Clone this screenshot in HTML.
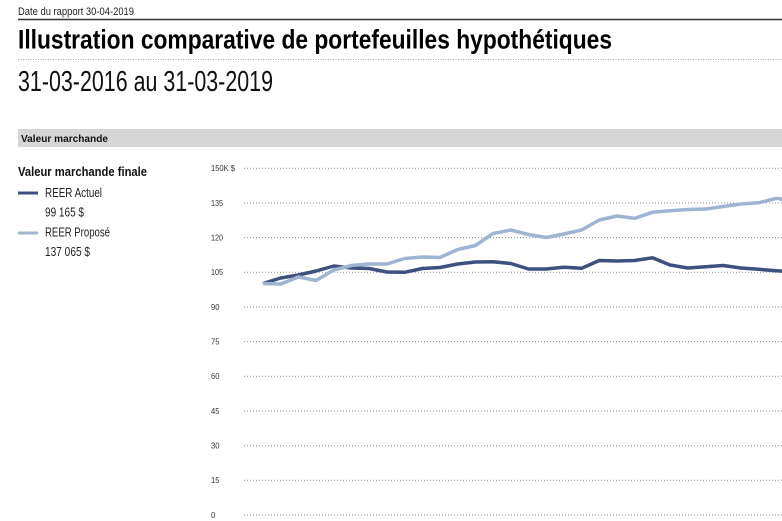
<!DOCTYPE html>
<html><head><meta charset="utf-8"><style>
html,body{margin:0;padding:0;background:#fff;width:782px;height:521px;overflow:hidden}
svg{display:block}
text{font-family:"Liberation Sans","DejaVu Sans",sans-serif}
</style></head><body>
<svg width="782" height="521" viewBox="0 0 782 521" xmlns="http://www.w3.org/2000/svg">
<text x="18" y="15" font-size="11" fill="#222" textLength="116" lengthAdjust="spacingAndGlyphs">Date du rapport 30-04-2019</text>
<line x1="18" y1="19.5" x2="782" y2="19.5" stroke="#333" stroke-width="1.4"/>
<text x="18" y="48.5" font-size="27" font-weight="bold" fill="#000" textLength="594" lengthAdjust="spacingAndGlyphs">Illustration comparative de portefeuilles hypothétiques</text>
<line x1="18" y1="59.5" x2="782" y2="59.5" stroke="#aaa" stroke-width="1" stroke-dasharray="1 1.5"/>
<text x="18" y="91" font-size="29" fill="#111" textLength="255" lengthAdjust="spacingAndGlyphs">31-03-2016 au 31-03-2019</text>
<rect x="18" y="129" width="764" height="18" fill="#d6d6d6"/>
<text x="21" y="142" font-size="10.5" font-weight="bold" fill="#111" textLength="87" lengthAdjust="spacingAndGlyphs">Valeur marchande</text>
<text x="18" y="176" font-size="12.5" font-weight="bold" fill="#111" textLength="129" lengthAdjust="spacingAndGlyphs">Valeur marchande finale</text>
<rect x="18" y="191.5" width="20" height="3" fill="#3d5080"/>
<text x="45" y="197" font-size="12.5" fill="#222" textLength="57" lengthAdjust="spacingAndGlyphs">REER Actuel</text>
<text x="45" y="216.5" font-size="12.5" fill="#222" textLength="39" lengthAdjust="spacingAndGlyphs">99 165 $</text>
<rect x="18" y="231.5" width="20" height="3" fill="#9fb4d2"/>
<text x="45" y="236.7" font-size="12.5" fill="#222" textLength="65" lengthAdjust="spacingAndGlyphs">REER Proposé</text>
<text x="45" y="256" font-size="12.5" fill="#222" textLength="45" lengthAdjust="spacingAndGlyphs">137 065 $</text>
<g stroke="#8a8a8a" stroke-width="1" stroke-dasharray="1 2">
<line x1="244" y1="168.3" x2="782" y2="168.3"/>
<line x1="244" y1="203" x2="782" y2="203"/>
<line x1="244" y1="237.6" x2="782" y2="237.6"/>
<line x1="244" y1="272.3" x2="782" y2="272.3"/>
<line x1="244" y1="307" x2="782" y2="307"/>
<line x1="244" y1="341.6" x2="782" y2="341.6"/>
<line x1="244" y1="376.3" x2="782" y2="376.3"/>
<line x1="244" y1="411" x2="782" y2="411"/>
<line x1="244" y1="445.7" x2="782" y2="445.7"/>
<line x1="244" y1="480.3" x2="782" y2="480.3"/>
<line x1="244" y1="515" x2="782" y2="515"/>
</g>
<g font-size="8" fill="#333">
<text x="211" y="171" textLength="24" lengthAdjust="spacingAndGlyphs">150K $</text>
<text x="211" y="205.8" textLength="12" lengthAdjust="spacingAndGlyphs">135</text>
<text x="211" y="240.4" textLength="12" lengthAdjust="spacingAndGlyphs">120</text>
<text x="211" y="275.1" textLength="12" lengthAdjust="spacingAndGlyphs">105</text>
<text x="211" y="309.8" textLength="8.5" lengthAdjust="spacingAndGlyphs">90</text>
<text x="211" y="344.4" textLength="8.5" lengthAdjust="spacingAndGlyphs">75</text>
<text x="211" y="379.1" textLength="8.5" lengthAdjust="spacingAndGlyphs">60</text>
<text x="211" y="413.8" textLength="8.5" lengthAdjust="spacingAndGlyphs">45</text>
<text x="211" y="448.5" textLength="8.5" lengthAdjust="spacingAndGlyphs">30</text>
<text x="211" y="483.1" textLength="8.5" lengthAdjust="spacingAndGlyphs">15</text>
<text x="211" y="517.8" textLength="4.3" lengthAdjust="spacingAndGlyphs">0</text>
</g>
<polyline fill="none" stroke="#3d5080" stroke-width="3.5" stroke-linejoin="round" points="263,283.5 280.7,278 298.4,275 316.1,271 333.8,266 351.5,268 369.2,268.5 386.9,272 404.6,272.3 422.3,268.5 440,267.5 457.7,264 475.4,262 493.1,261.7 510.8,263.5 528.5,269 546.2,269 563.9,267.3 581.6,268.3 599.3,260.5 617,261 634.7,260.5 652.4,257.8 670.1,265 687.8,268 705.5,266.7 723.2,265.5 740.9,268 758.6,269.3 776.3,270.7 794,272"/>
<polyline fill="none" stroke="#9fb4d2" stroke-width="3.5" stroke-linejoin="round" points="263,283.5 280.7,284 298.4,277 316.1,280.5 333.8,270 351.5,265.5 369.2,264 386.9,264 404.6,258.5 422.3,257 440,257.5 457.7,249.5 475.4,245.5 493.1,233.5 510.8,230 528.5,234.5 546.2,237.5 563.9,234 581.6,230 599.3,220 617,216 634.7,218.3 652.4,212.3 670.1,210.8 687.8,209.5 705.5,209 723.2,206.5 740.9,204 758.6,202.8 776.3,198.3 794,201"/>
</svg>
</body></html>
